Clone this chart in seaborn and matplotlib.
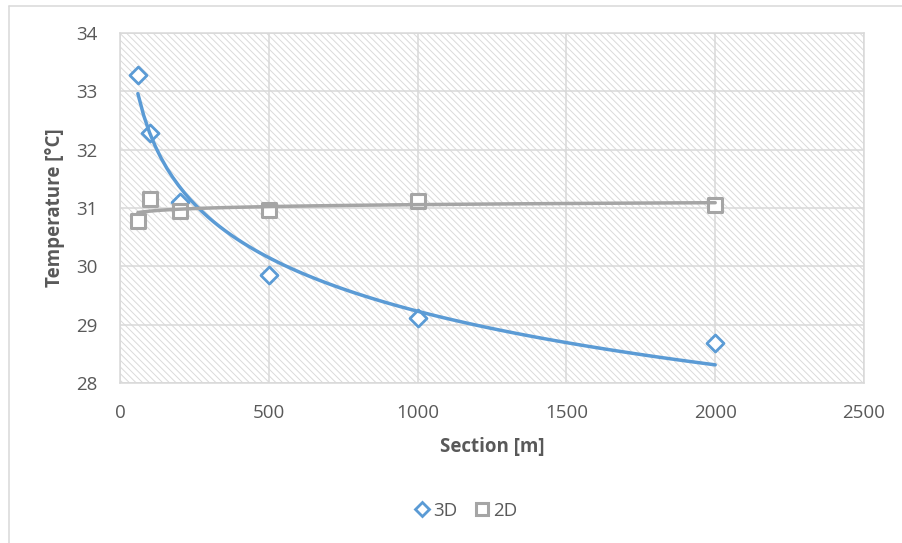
import pandas as pd
import matplotlib.pyplot as plt
import seaborn as sns
from matplotlib.lines import Line2D
from matplotlib.patches import Rectangle

# data
section = [60, 100, 200, 500, 1000, 2000]
temp_3d = [33.28, 32.28, 31.10, 29.85, 29.11, 28.68]
temp_2d = [30.78, 31.15, 30.95, 30.96, 31.12, 31.06]
x_ticks = [0, 500, 1000, 1500, 2000, 2500]
y_ticks = [28, 29, 30, 31, 32, 33, 34]

blue = "#5B9BD5"
grey = "#A5A5A5"
text_col = "#595959"
grid_col = "#D9D9D9"

sns.set_style("white")
plt.rcParams["font.family"] = ["Open Sans", "DejaVu Sans"]
plt.rcParams["hatch.linewidth"] = 0.7

fig = plt.figure(figsize=(9.02, 5.43), dpi=100)
ax = fig.add_axes([120 / 902, 1 - 383 / 543, 744 / 902, 350 / 543])

# hatched plot area
ax.add_patch(Rectangle((0, 0), 1, 1, transform=ax.transAxes, facecolor="white",
                       edgecolor="#DADADA", hatch="\\" * 5, linewidth=0, zorder=0.1))

# points
sns.scatterplot(x=section, y=temp_3d, marker="D", s=75, color="white",
                edgecolor=blue, linewidth=2.0, ax=ax, zorder=3)
sns.scatterplot(x=section, y=temp_2d, marker="s", s=110, color="white",
                edgecolor=grey, linewidth=2.2, ax=ax, zorder=3)

# logarithmic trendlines
sns.regplot(x=section, y=temp_3d, logx=True, ci=None, scatter=False, truncate=True,
            line_kws=dict(color=blue, lw=2.5, zorder=4), ax=ax)
sns.regplot(x=section, y=temp_2d, logx=True, ci=None, scatter=False, truncate=True,
            line_kws=dict(color=grey, lw=2.5, zorder=4), ax=ax)

ax.set_xlim(0, 2500)
ax.set_ylim(28, 34)
ax.set_xticks(x_ticks)
ax.set_yticks(y_ticks)
ax.grid(True, color=grid_col, linewidth=1.1)
ax.set_axisbelow(True)
for sp in ax.spines.values():
    sp.set_color(grid_col)
    sp.set_linewidth(1.1)
ax.tick_params(length=0, labelsize=13.5, labelcolor=text_col)
ax.tick_params(axis="y", pad=16)
ax.tick_params(axis="x", pad=15)

ax.set_xlabel("Section [m]", fontsize=13.5, fontweight="bold", color=text_col)
ax.set_ylabel("Temperature [°C]", fontsize=13.5, fontweight="bold", color=text_col)
ax.xaxis.set_label_coords(0.5, (383 - 447) / 350)
ax.xaxis.label.set_va("center")
ax.yaxis.set_label_coords((55 - 120) / 744, 0.5)
ax.yaxis.label.set_va("center")

handles = [
    Line2D([], [], marker="D", ls="none", markersize=7, markerfacecolor="white",
           markeredgecolor=blue, markeredgewidth=2.0),
    Line2D([], [], marker="s", ls="none", markersize=9, markerfacecolor="white",
           markeredgecolor=grey, markeredgewidth=2.2),
]
fig.legend(handles, ["3D", "2D"], loc="center", bbox_to_anchor=(465 / 902, 1 - 511 / 543),
           ncol=2, frameon=False, fontsize=13.5, labelcolor=text_col,
           handletextpad=0.1, columnspacing=0.8, handlelength=1.0)

# outer chart border
fig.add_artist(Line2D([8.5 / 902, 8.5 / 902], [0, 1 - 5.5 / 543], color=grid_col, lw=1.1))
fig.add_artist(Line2D([8.5 / 902, 1], [1 - 5.5 / 543, 1 - 5.5 / 543], color=grid_col, lw=1.1))

fig.savefig("out.png", dpi=100)
